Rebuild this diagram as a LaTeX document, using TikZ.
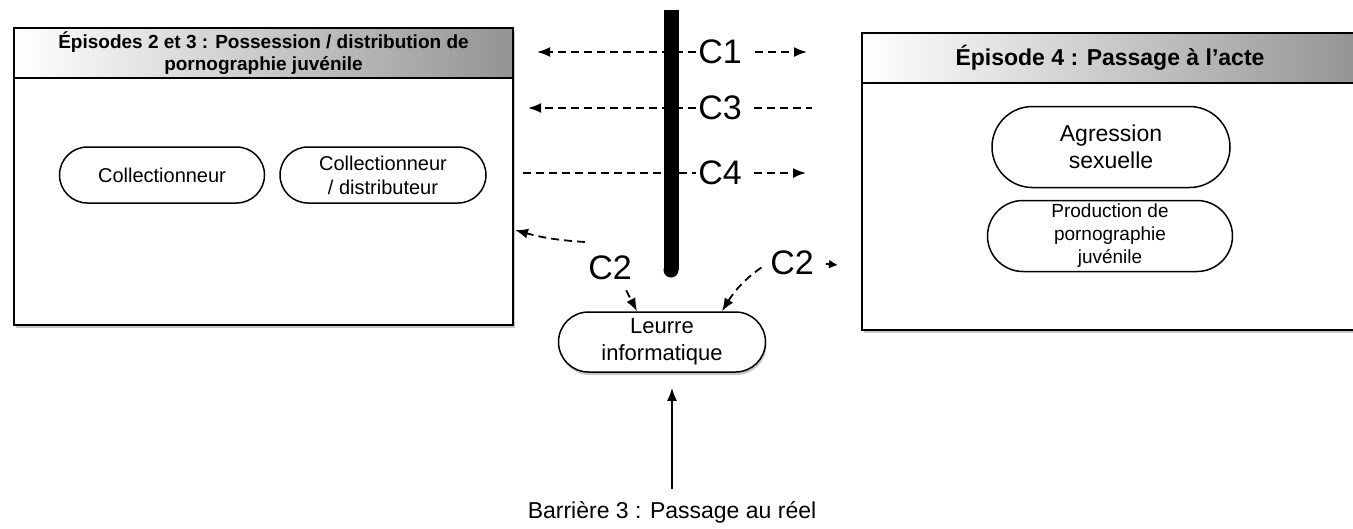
\documentclass[tikz,border=0pt]{standalone}
\usepackage{fontspec}
\setmainfont{Liberation Sans}
\usetikzlibrary{shapes.misc,shadows,arrows.meta}

\begin{document}
\begin{tikzpicture}
[x=1pt,y=-1pt,
 boxdecorate/.style={shape=rectangle,draw,line width=2pt,fill=white,inner sep=0pt,outer sep=0pt,
   drop shadow={shadow xshift=2pt,shadow yshift=-3pt,opacity=0.45}},
 headdecorate/.style={shape=rectangle,draw,line width=1.6pt,left color=white,right color=black!42,
   inner sep=0pt,outer sep=0pt,align=center,anchor=north},
 pilldecorate/.style={shape=rounded rectangle,draw,line width=1.5pt,fill=white,inner sep=0pt,align=center},
 labeldecorate/.style={font=\fontsize{34pt}{36pt}\selectfont,inner sep=2pt},
 linedecorate/.style={dash pattern=on 8pt off 5pt,line width=1.8pt},
 arrowdecorate/.style={linedecorate,-{Latex[length=13pt,width=10pt]}}]
\useasboundingbox (0,0) rectangle (1353,528);
%% episode boxes
\node (ep23) [boxdecorate,minimum width=499pt,minimum height=297pt] at (263.5,176.5) {};
\node (ep23head) [headdecorate,minimum width=499pt,minimum height=50pt,
  font=\bfseries\fontsize{19pt}{22pt}\selectfont] at (ep23.north)
  {Épisodes 2 et 3 : Possession / distribution de\\pornographie juvénile};
\node (ep4) [boxdecorate,minimum width=496pt,minimum height=297pt] at (1110,181.5) {};
\node (ep4head) [headdecorate,minimum width=496pt,minimum height=50pt,
  font=\bfseries\fontsize{23pt}{26pt}\selectfont] at (ep4.north)
  {Épisode 4 : Passage à l'acte};
%% profiles
\node (coll) [pilldecorate,minimum width=205pt,minimum height=56pt,
  font=\fontsize{20pt}{24pt}\selectfont] at (162,175) {Collectionneur};
\node (colldist) [pilldecorate,minimum width=206pt,minimum height=56pt,
  font=\fontsize{20pt}{24pt}\selectfont] at (383,175) {Collectionneur\\/ distributeur};
\node (agression) [pilldecorate,minimum width=238pt,minimum height=81pt,
  font=\fontsize{23pt}{27pt}\selectfont] at (1111,147) {Agression\\sexuelle};
\node (production) [pilldecorate,minimum width=245pt,minimum height=71pt,
  font=\fontsize{19pt}{23pt}\selectfont] at (1110,236) {Production de\\pornographie\\juvénile};
\node (leurre) [pilldecorate,minimum width=207pt,minimum height=60pt,
  font=\fontsize{22pt}{27pt}\selectfont,
  drop shadow={shadow xshift=1pt,shadow yshift=-3pt,opacity=0.45}] at (662,342) {Leurre\\informatique};
\node (barriere) [font=\fontsize{23pt}{27pt}\selectfont] at (672,512) {Barrière 3 : Passage au réel};
%% channel labels
\foreach \labelname/\x/\y/\labeltext in {c1/720/52/C1, c3/720/108/C3,
  c4/720/173/C4, c2l/610/268/C2, c2r/792/263/C2}
{
  \node (\labelname) [labeldecorate] at (\x,\y) {\labeltext};
}
\foreach \pointname/\x/\y in {c1left/537/52, c1right/807/52, c3left/528/108,
  c3right/812/108, c4left/523/173, c4right/806/173, c2lstart/585/242,
  ep23port/515/230, c2rtip/838/265}
{
  \coordinate (\pointname) at (\x,\y);
}
%% dashed channels
\path
\foreach \startnode/\endnode/\decor/\gap in {c1.west/c1left/arrowdecorate/0pt,
  c1.east/c1right/arrowdecorate/11pt, c3.west/c3left/arrowdecorate/0pt,
  c3.east/c3right/linedecorate/10pt, c4left/c4.west/linedecorate/0pt,
  c4.east/c4right/arrowdecorate/10pt} {
  (\startnode) edge[\decor,shorten <=\gap] (\endnode)
};
\draw [arrowdecorate] (c2lstart) to[bend left=6] (ep23port);
\draw [arrowdecorate,shorten <=9pt] ([xshift=12pt]c2l.south) -- ([xshift=-25pt]leurre.north);
\draw [arrowdecorate,shorten <=8pt] (c2r.west) to[bend right=12] ([xshift=60pt]leurre.north);
\draw [line width=1.8pt,-{Latex[length=9pt,width=9pt]},shorten <=10pt] (c2r.east) -- (c2rtip);
%% barrier
\coordinate (bartop) at (671,10);
\coordinate (barbottom) at (671,270);
\draw [line width=15pt] (bartop) -- (barbottom);
\fill (barbottom) circle (7.5pt);
\draw [line width=1.8pt,-{Latex[length=13pt,width=10pt]},shorten <=9pt,shorten >=15pt]
  (barriere.north) -- (barriere.north |- leurre.south);
\end{tikzpicture}
\end{document}
